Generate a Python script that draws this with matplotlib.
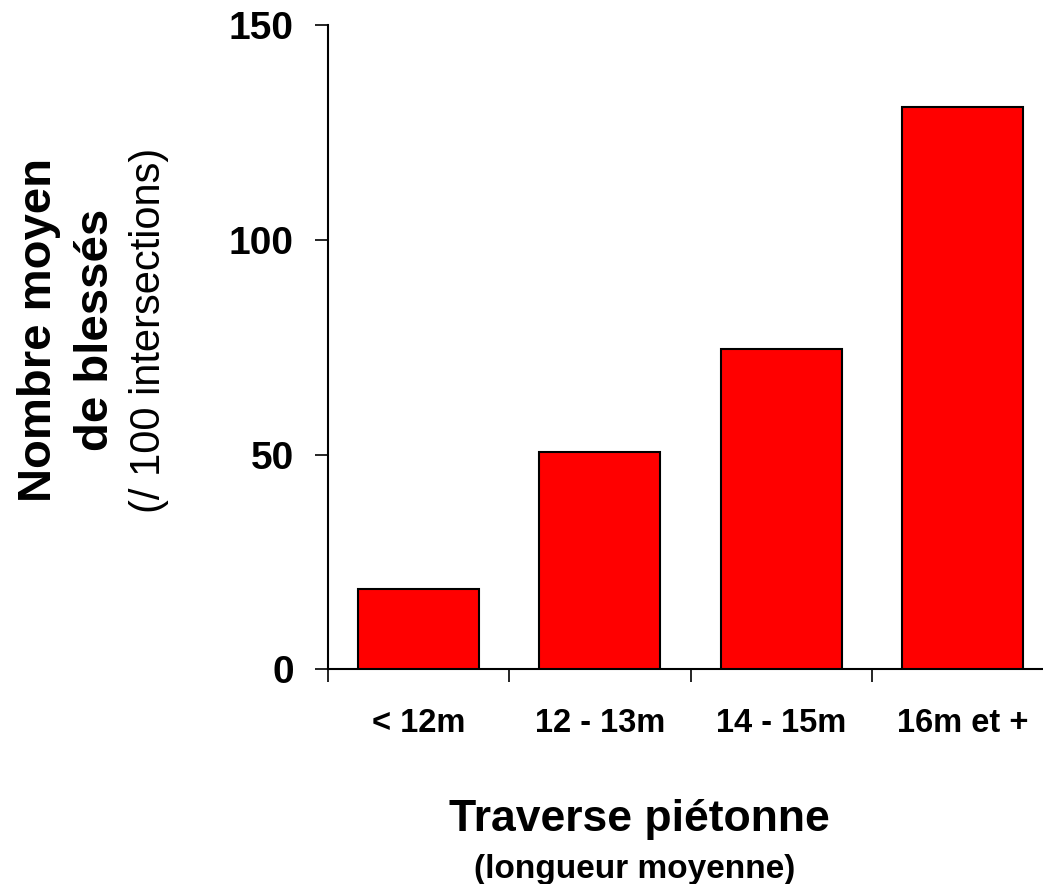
import matplotlib.pyplot as plt
import numpy as np

plt.rcParams["font.family"] = ["Liberation Sans", "DejaVu Sans"]

categories = ["< 12m", "12 - 13m", "14 - 15m", "16m et +"]
blesses = [18.6, 50.6, 74.6, 131.0]
y_ticks = [0, 50, 100, 150]

W, H = 1043, 884
fig = plt.figure(figsize=(W / 100, H / 100), dpi=100)
ax = fig.add_axes([328 / W, 1 - 669.3 / H, 725 / W, 644 / H])

x = np.arange(len(categories))
ax.bar(x, blesses, width=2 / 3, color="#ff0000", edgecolor="black", linewidth=1.5, zorder=3)

ax.set_xlim(-0.5, len(categories) - 0.5)
ax.set_ylim(0, 150)
ax.spines[["top", "right"]].set_visible(False)
for side in ["left", "bottom"]:
    ax.spines[side].set_linewidth(1.5)

# graduations aux limites des categories, libelles au centre
ax.set_xticks(np.arange(-0.5, len(categories)), labels=[])
ax.set_xticks(x, labels=categories, minor=True)
ax.tick_params(axis="x", which="major", direction="out", length=9, width=1.2)
ax.tick_params(axis="x", which="minor", length=0, pad=28, labelsize=23.5)
for lab in ax.get_xticklabels(minor=True):
    lab.set_fontweight("bold")

ax.set_yticks(y_ticks)
ax.tick_params(axis="y", direction="out", length=9.5, width=1.2, pad=15, labelsize=28)
for lab in ax.get_yticklabels():
    lab.set_fontweight("bold")

# titre de l'axe Y sur trois lignes
ycen = 1 - 330 / H
fig.text(51 / W, ycen, "Nombre moyen", rotation=90, rotation_mode="anchor",
         ha="center", va="baseline", fontsize=34, fontweight="bold")
fig.text(108 / W, ycen, "de blessés", rotation=90, rotation_mode="anchor",
         ha="center", va="baseline", fontsize=34, fontweight="bold")
fig.text(160 / W, ycen, "(/ 100 intersections)", rotation=90, rotation_mode="anchor",
         ha="center", va="baseline", fontsize=30)

# titre de l'axe X
fig.text(639 / W, 1 - 831 / H, "Traverse piétonne", ha="center", va="baseline",
         fontsize=32, fontweight="bold")
fig.text(635 / W, 1 - 878 / H, "(longueur moyenne)", ha="center", va="baseline",
         fontsize=24, fontweight="bold")

fig.savefig("out.png", dpi=100)
